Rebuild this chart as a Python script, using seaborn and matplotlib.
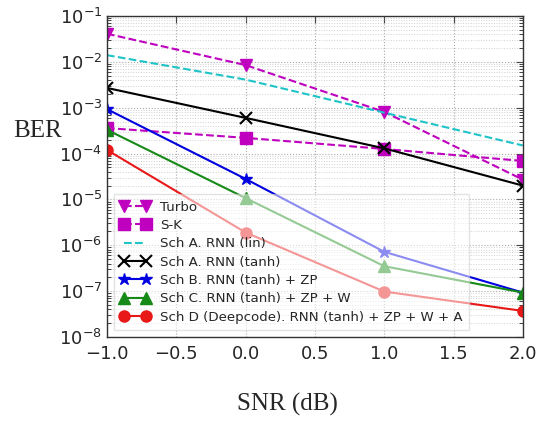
import numpy as np
import pandas as pd
import seaborn as sns
import matplotlib.pyplot as plt

snr = [-1.0, 0.0, 1.0, 2.0]

turbo = [4.1e-2, 8.5e-3, 8.1e-4, 2.7e-5]
sk = [3.6e-4, 2.2e-4, 1.26e-4, 6.9e-5]
sch_a_lin = [1.4e-2, 4.1e-3, 7.8e-4, 1.5e-4]
sch_a_tanh = [2.7e-3, 6.0e-4, 1.3e-4, 2.0e-5]
sch_b = [9.3e-4, 2.8e-5, 7.2e-7, 9.3e-8]
sch_c = [3.3e-4, 1.07e-5, 3.5e-7, 9.3e-8]
sch_d = [1.2e-4, 1.9e-6, 9.8e-8, 3.7e-8]

series_names = ["Turbo", "S-K", "Sch A. RNN (lin)", "Sch A. RNN (tanh)",
                "Sch B. RNN (tanh) + ZP", "Sch C. RNN (tanh) + ZP + W",
                "Sch D (Deepcode). RNN (tanh) + ZP + W + A"]
series_values = [turbo, sk, sch_a_lin, sch_a_tanh, sch_b, sch_c, sch_d]

styles = {
    "Turbo": dict(color="#bf00bf", marker="v", ls="--", ms=9),
    "S-K": dict(color="#bf00bf", marker="s", ls="--", ms=8),
    "Sch A. RNN (lin)": dict(color="#1fc4c8", marker=None, ls="--", ms=0),
    "Sch A. RNN (tanh)": dict(color="black", marker="x", ls="-", ms=8),
    "Sch B. RNN (tanh) + ZP": dict(color="#0000e0", marker="*", ls="-", ms=9),
    "Sch C. RNN (tanh) + ZP + W": dict(color="#168a16", marker="^", ls="-", ms=8),
    "Sch D (Deepcode). RNN (tanh) + ZP + W + A": dict(color="#e81818", marker="o", ls="-", ms=8),
}

rows = []
for name, vals in zip(series_names, series_values):
    for x, y in zip(snr, vals):
        rows.append({"SNR": x, "BER": y, "scheme": name})
df = pd.DataFrame(rows)

sns.set_style("whitegrid")
plt.rcParams["font.family"] = ["DejaVu Sans"]

fig = plt.figure(figsize=(5.43, 4.21), dpi=100)
ax = fig.add_axes([0.197, 0.1995, 0.766, 0.7625])

for name in series_names:
    st = styles[name]
    sub = df[df["scheme"] == name]
    sns.lineplot(data=sub, x="SNR", y="BER", ax=ax, color=st["color"],
                 marker=st["marker"], markersize=st["ms"], linestyle=st["ls"],
                 linewidth=1.5, markeredgecolor=st["color"],
                 markeredgewidth=1.5 if st["marker"] == "x" else 1,
                 label=name)

ax.set_yscale("log")
ax.set_xlim(-1.0, 2.0)
ax.set_ylim(1e-8, 1e-1)
ax.set_xticks([-1.0, -0.5, 0.0, 0.5, 1.0, 1.5, 2.0])
ax.set_xticklabels(["\u22121.0", "\u22120.5", "0.0", "0.5", "1.0", "1.5", "2.0"])
ax.tick_params(axis="both", which="major", labelsize=13, direction="in",
               top=True, right=True, length=5, color="#444444")
ax.tick_params(axis="x", which="major", pad=6)
ax.tick_params(axis="y", which="minor", direction="in", left=True, right=True, length=3)
ax.grid(True, which="major", linestyle=":", color="#aaaaaa", linewidth=0.8)
ax.grid(True, which="minor", axis="y", linestyle=":", color="#d0d0d0", linewidth=0.7)
for sp in ax.spines.values():
    sp.set_color("#333333")
    sp.set_linewidth(1.0)

ax.set_xlabel("")
ax.set_ylabel("")
fig.text(0.07, 0.69, "BER", family="Liberation Serif", fontsize=18,
         ha="center", va="center")
fig.text(0.53, 0.04, "SNR (dB)", family="Liberation Serif", fontsize=18,
         ha="center", va="center")

leg = ax.legend(loc="lower left", fontsize=9.6, numpoints=2, handlelength=2.2,
                frameon=True, fancybox=False, borderpad=0.5, labelspacing=0.4,
                bbox_to_anchor=(0.0, 0.0))
leg.get_frame().set_edgecolor("#cccccc")
leg.get_frame().set_alpha(0.55)

fig.savefig("out.png", dpi=100)
